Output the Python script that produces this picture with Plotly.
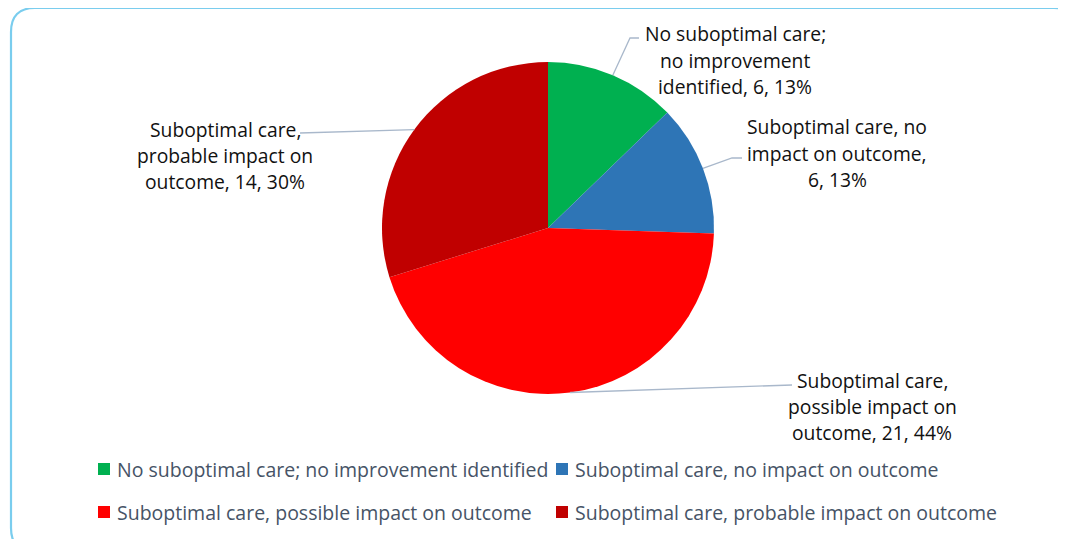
import math
import plotly.graph_objects as go

# ---- data ----
categories = [
    "No suboptimal care; no improvement identified",
    "Suboptimal care, no impact on outcome",
    "Suboptimal care, possible impact on outcome",
    "Suboptimal care, probable impact on outcome",
]
values = [6, 6, 21, 14]
percent_labels = ["13%", "13%", "44%", "30%"]
label_lines = [
    ["No suboptimal care;", "no improvement", "identified"],
    ["Suboptimal care, no", "impact on outcome,", ""],
    ["Suboptimal care,", "possible impact on", "outcome"],
    ["Suboptimal care,", "probable impact on", "outcome"],
]
colors = ["#00B050", "#2E75B6", "#FF0000", "#C00000"]

# ---- layout constants (pixels in the screenshot) ----
W, H = 1066, 539
OFF = 8  # page body margin
CX, CY, R = 548, 228, 166


def px(x):
    return (x - OFF) / W


def py(y):
    return 1 - (y - OFF) / H


fig = go.Figure()
fig.add_trace(go.Pie(
    labels=categories,
    values=values,
    sort=False,
    direction="clockwise",
    rotation=0,
    marker=dict(colors=colors, line=dict(width=0)),
    textinfo="none",
    hoverinfo="label+value+percent",
    showlegend=False,
    domain=dict(x=[px(CX - R), px(CX + R)], y=[py(CY + R), py(CY - R)]),
))

FONT = "'Open Sans', sans-serif"
FS_LABEL = 19.3
FS_LEGEND = 19.5
LINE_H = 26.3

# label centers (x, y of first line) and leader elbow/attach points
label_pos = [(735, 34), (837, 127), (872, 380), (225, 129)]
elbows = [[(630, 38), (639, 38)], [(732, 158), (742, 158)], [(792, 385)], [(300, 133)]]

total = sum(values)
start = 0.0
for i, v in enumerate(values):
    frac = v / total
    mid = (start + frac / 2) * 2 * math.pi
    start += frac
    ex = CX + R * math.sin(mid)
    ey = CY - R * math.cos(mid)
    pts = [(ex, ey)] + elbows[i]
    path = "M " + " L ".join(f"{px(x):.5f},{py(y):.5f}" for x, y in pts)
    fig.add_shape(type="path", path=path, xref="paper", yref="paper",
                  line=dict(color="#A9B8CB", width=1.3))
    lines = list(label_lines[i])
    tail = f"{v}, {percent_labels[i]}"
    lines[-1] = (lines[-1] + ", " + tail) if lines[-1] else tail
    lx, ly = label_pos[i]
    for k, t in enumerate(lines):
        fig.add_annotation(x=px(lx), y=py(ly + k * LINE_H), xref="paper", yref="paper",
                           text=t, showarrow=False,
                           xanchor="center", yanchor="middle", align="center",
                           font=dict(family=FONT, size=FS_LABEL, color="#111111"))

# legend (manual, two rows)
legend_pos = [(98, 469), (556, 469), (98, 512), (556, 512)]
for i, name in enumerate(categories):
    x0, yc = legend_pos[i]
    fig.add_shape(type="rect", xref="paper", yref="paper",
                  x0=px(x0), x1=px(x0 + 12), y0=py(yc + 6), y1=py(yc - 6),
                  fillcolor=colors[i], line=dict(width=0))
    fig.add_annotation(x=px(x0 + 17), y=py(yc), xref="paper", yref="paper",
                       text=name, showarrow=False, xanchor="left", yanchor="middle",
                       font=dict(family=FONT, size=FS_LEGEND, color="#465366"))

# rounded frame
x0f, y0f, x1f, y1f, r = 11, 8, 1078, 552, 24
frame = (f"M {px(x0f + r)},{py(y0f)} L {px(x1f - r)},{py(y0f)} "
         f"Q {px(x1f)},{py(y0f)} {px(x1f)},{py(y0f + r)} "
         f"L {px(x1f)},{py(y1f - r)} Q {px(x1f)},{py(y1f)} {px(x1f - r)},{py(y1f)} "
         f"L {px(x0f + r)},{py(y1f)} Q {px(x0f)},{py(y1f)} {px(x0f)},{py(y1f - r)} "
         f"L {px(x0f)},{py(y0f + r)} Q {px(x0f)},{py(y0f)} {px(x0f + r)},{py(y0f)} Z")
fig.add_shape(type="path", path=frame, xref="paper", yref="paper",
              line=dict(color="#7ACDEE", width=2.2))

fig.update_layout(
    width=W, height=H,
    margin=dict(l=0, r=0, t=0, b=0),
    paper_bgcolor="white", plot_bgcolor="white",
    showlegend=False,
)
fig.write_html("out.html")
